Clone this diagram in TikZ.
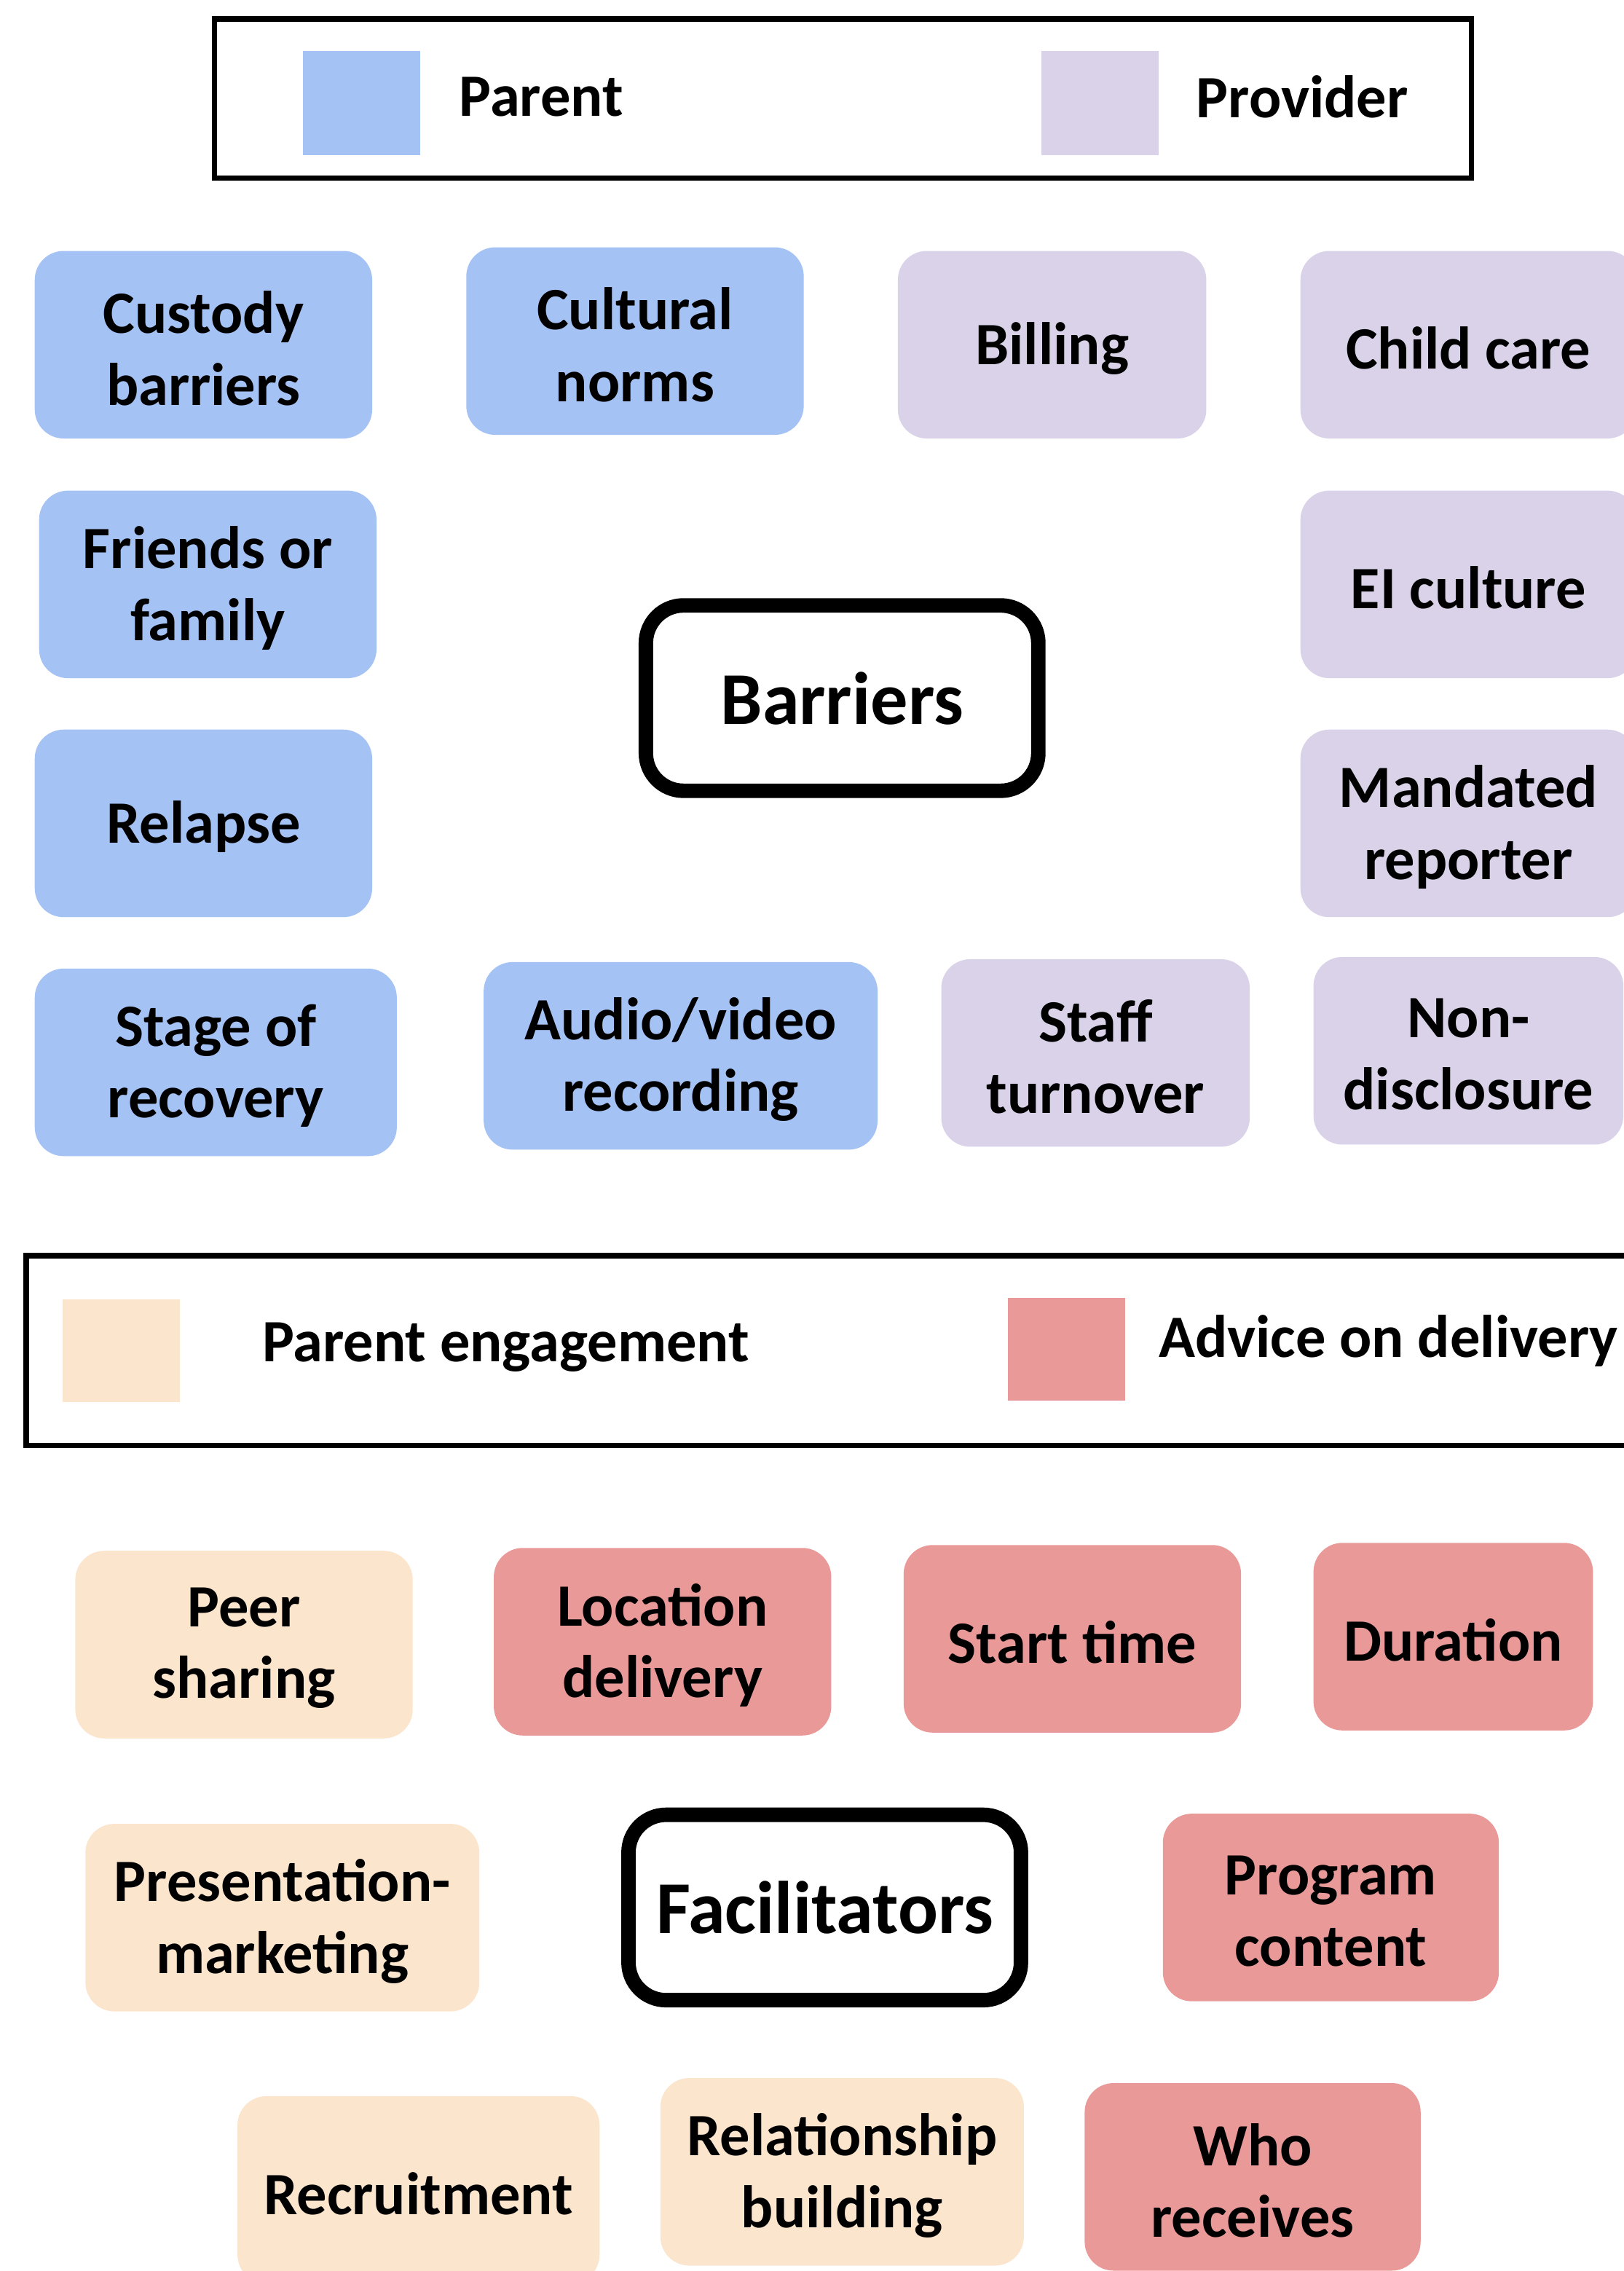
\documentclass[tikz,border=0pt]{standalone}
\usepackage{fontspec}
\setmainfont{Carlito}
\definecolor{cblue}{HTML}{A4C2F4}
\definecolor{clav}{HTML}{D9D2E9}
\definecolor{cpeach}{HTML}{FCE5CD}
\definecolor{cpink}{HTML}{EA9999}
\tikzset{
  bx/.style={rounded corners=20pt, draw=none, inner sep=0pt, align=center,
    font=\fontsize{41.5}{49.5}\selectfont\bfseries, minimum height=129.5pt,
    yshift=-2.5pt},
  blu/.style={bx, preaction={fill=cblue, transform canvas={yshift=2.5pt}}},
  lav/.style={bx, preaction={fill=clav, transform canvas={yshift=2.5pt}}},
  pch/.style={bx, preaction={fill=cpeach, transform canvas={yshift=2.5pt}}},
  pnk/.style={bx, preaction={fill=cpink, transform canvas={yshift=2.5pt}}},
  hub/.style={rounded corners=26pt, draw=black, line width=10pt, fill=white,
    inner sep=0pt, minimum width=271pt, minimum height=128pt,
    font=\fontsize{51.5}{60}\selectfont\bfseries},
  legbox/.style={draw=black, line width=3.8pt},
  legtxt/.style={anchor=west, inner sep=0pt, font=\fontsize{41.5}{49.5}\selectfont\bfseries},
}
\begin{document}
\begin{tikzpicture}[x=1pt,y=-1pt]
\useasboundingbox (0,0) rectangle (1121,1568);
\fill[white] (0,0) rectangle (1121,1568);

% legend 1
\draw[legbox] (148,13) rectangle (1016,123);
\fill[cblue] (209,35) rectangle (290,107);
\fill[clav] (719,35) rectangle (800,107);
\node[legtxt] (lp) at (317,67) {Parent};
\node[legtxt] (lv) at (826,67) {Provider};

% barriers
\node[blu, minimum width=233pt] (custody) at (140.5,238) {Custody\\barriers};
\node[blu, minimum width=233pt] (cultural) at (438.5,235.5) {Cultural\\norms};
\node[lav, minimum width=213pt] (billing) at (726.5,238) {Billing};
\node[lav, minimum width=232pt] (childcare) at (1014,238) {Child care};
\node[blu, minimum width=233pt] (friends) at (143.5,403.5) {Friends or\\family};
\node[lav, minimum width=232pt] (ei) at (1014,403.5) {EI culture};
\node[hub] (barriers) at (581.5,482) {Barriers};
\node[blu, minimum width=233pt] (relapse) at (140.5,568.5) {Relapse};
\node[lav, minimum width=232pt] (mandated) at (1014,568.5) {Mandated\\reporter};
\node[blu, minimum width=250pt] (stage) at (149,733.5) {Stage of\\recovery};
\node[blu, minimum width=272pt] (audio) at (470,729) {Audio/video\\recording};
\node[lav, minimum width=213pt] (staff) at (756.5,727) {Staff\\turnover};
\node[lav, minimum width=214pt] (nondis) at (1014,725.5) {Non-\\disclosure};

% legend 2
\draw[legbox] (18,867) rectangle (1140,998);
\fill[cpeach] (43,897) rectangle (124,968);
\fill[cpink] (696,896) rectangle (777,967);
\node[legtxt] (lpe) at (181,930) {Parent engagement};
\node[legtxt] (lad) at (800,926) {Advice on delivery};

% facilitators
\node[pch, minimum width=233pt] (peer) at (168.5,1135.5) {Peer\\sharing};
\node[pnk, minimum width=233pt] (location) at (457.5,1133.5) {Location\\delivery};
\node[pnk, minimum width=233pt] (start) at (740.5,1131.5) {Start time};
\node[pnk, minimum width=193pt] (duration) at (1003.5,1130) {Duration};
\node[pch, minimum width=272pt] (present) at (195,1324) {Presentation-\\marketing};
\node[hub] (facil) at (569.5,1317) {Facilitators};
\node[pnk, minimum width=232pt] (program) at (919,1317) {Program\\content};
\node[pch, minimum width=250pt] (recruit) at (289,1512) {Recruitment};
\node[pch, minimum width=251pt] (relation) at (581.5,1499.5) {Relationship\\building};
\node[pnk, minimum width=232pt] (who) at (865,1503) {Who\\receives};
\end{tikzpicture}
\end{document}
